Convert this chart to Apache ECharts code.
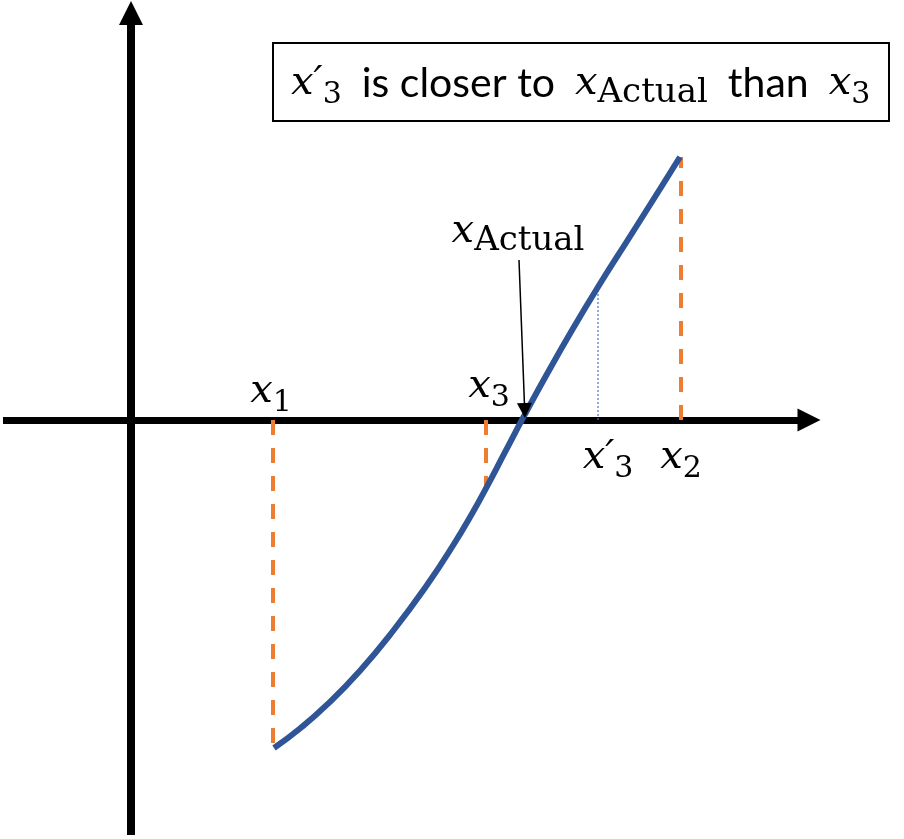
<!DOCTYPE html>
<html lang="en">
<head>
    <meta charset="UTF-8">
    <title>False position</title>
    <script src="https://cdn.jsdelivr.net/npm/echarts@6/dist/echarts.min.js"></script>
    <style>
        body { margin: 0; background: #fff; }
        #main { width: 904px; height: 839px; }
    </style>
</head>
<body>
<div id="main"></div>
<script type="text/javascript">
    // curve f(x), origin where the two axes cross
    var curveX = [143, 169, 196, 229, 262, 296, 322, 342, 355, 374, 394, 416, 442, 467, 499, 529, 549];
    var curveY = [-328, -308.5, -284.7, -250.7, -211, -165, -125.5, -92, -68.3, -32.2, 5.8, 46, 91.5, 133, 183.5, 231, 263];

    // orange guides at x1, x3, x2 down/up to the curve
    var guideX = [142, 355, 550];
    var guideY = [-328, -68, 263];

    // thin dotted guide at x'3
    var approxX = [467];
    var approxY = [133];

    // arrow pointing at x_Actual (end = centre of the head)
    var arrowFrom = [388, 160];
    var arrowTo = [393.7, 9.5];

    // label anchors and texts
    var labelX = [140, 358, 477, 550, 387];
    var labelY = [28, 33, -38, -38, 188];
    var labelText = [
        '{x|x}{s|1}',
        '{x|x}{s|3}',
        '{x|x}{p|′}{s|3}',
        '{x|x}{s|2}',
        '{x|x}{a|Actual}'
    ];

    var mathRich = {
        x: { fontFamily: 'DejaVu Serif', fontStyle: 'italic', fontSize: 40, lineHeight: 52, color: '#000' },
        p: { fontFamily: 'DejaVu Serif', fontStyle: 'italic', fontSize: 40, lineHeight: 52, color: '#000' },
        s: { fontFamily: 'DejaVu Serif', fontSize: 30, lineHeight: 26, verticalAlign: 'bottom', color: '#000' },
        a: { fontFamily: 'DejaVu Serif', fontSize: 34, lineHeight: 28, verticalAlign: 'bottom', color: '#000' },
        t: { fontFamily: 'Lato', fontSize: 41, lineHeight: 52, color: '#000', padding: [0, 20, 0, 20] }
    };

    var chart = echarts.init(document.getElementById('main'));

    var series = [];

    series.push({
        type: 'line',
        data: curveX.map(function (v, i) { return [v, curveY[i]]; }),
        smooth: 0.5,
        showSymbol: false,
        lineStyle: { color: '#2F5597', width: 6 },
        z: 5
    });

    guideX.forEach(function (gx, i) {
        series.push({
            type: 'line',
            data: [[gx, 0], [gx, guideY[i]]],
            showSymbol: false,
            lineStyle: { color: '#ED7D31', width: 4, type: [15, 13] },
            z: 4
        });
    });

    approxX.forEach(function (ax, i) {
        series.push({
            type: 'line',
            data: [[ax, 0], [ax, approxY[i]]],
            showSymbol: false,
            lineStyle: { color: '#4472C4', width: 1.2, type: [2, 2] },
            z: 4
        });
    });

    series.push({
        type: 'lines',
        coordinateSystem: 'cartesian2d',
        data: [{ coords: [arrowFrom, arrowTo] }],
        symbol: ['none', 'triangle'],
        symbolSize: [15, 15],
        lineStyle: { color: '#000', width: 1.5, opacity: 1 },
        z: 6
    });

    series.push({
        type: 'scatter',
        data: labelX.map(function (v, i) { return [v, labelY[i]]; }),
        symbolSize: 0,
        silent: true,
        itemStyle: { opacity: 1 },
        label: {
            show: true,
            position: 'inside',
            color: '#000',
            textBorderWidth: 0,
            formatter: function (p) { return labelText[p.dataIndex]; },
            rich: mathRich
        },
        z: 7
    });

    chart.setOption({
        animation: false,
        grid: { left: 3, right: 95, top: 13, bottom: 4 },
        xAxis: {
            type: 'value',
            min: -128,
            max: 678,
            axisLine: {
                onZero: true,
                symbol: ['none', 'triangle'],
                symbolSize: [23, 23],
                lineStyle: { color: '#000', width: 7, cap: 'butt' }
            },
            axisTick: { show: false },
            axisLabel: { show: false },
            splitLine: { show: false }
        },
        yAxis: {
            type: 'value',
            min: -415,
            max: 407,
            axisLine: {
                onZero: true,
                symbol: ['none', 'triangle'],
                symbolSize: [24, 24],
                lineStyle: { color: '#000', width: 8, cap: 'butt' }
            },
            axisTick: { show: false },
            axisLabel: { show: false },
            splitLine: { show: false }
        },
        graphic: [
            {
                type: 'rect',
                shape: { x: 273, y: 43, width: 616, height: 78 },
                style: { fill: '#fff', stroke: '#000', lineWidth: 2 },
                z: 10
            },
            {
                type: 'text',
                x: 291,
                y: 84,
                style: {
                    text: '{x|x}{p|′}{s|3}{t|is closer to}{x|x}{a|Actual}{t|than}{x|x}{s|3}',
                    rich: mathRich,
                    verticalAlign: 'middle'
                },
                z: 11
            }
        ],
        series: series
    });
</script>
</body>
</html>
